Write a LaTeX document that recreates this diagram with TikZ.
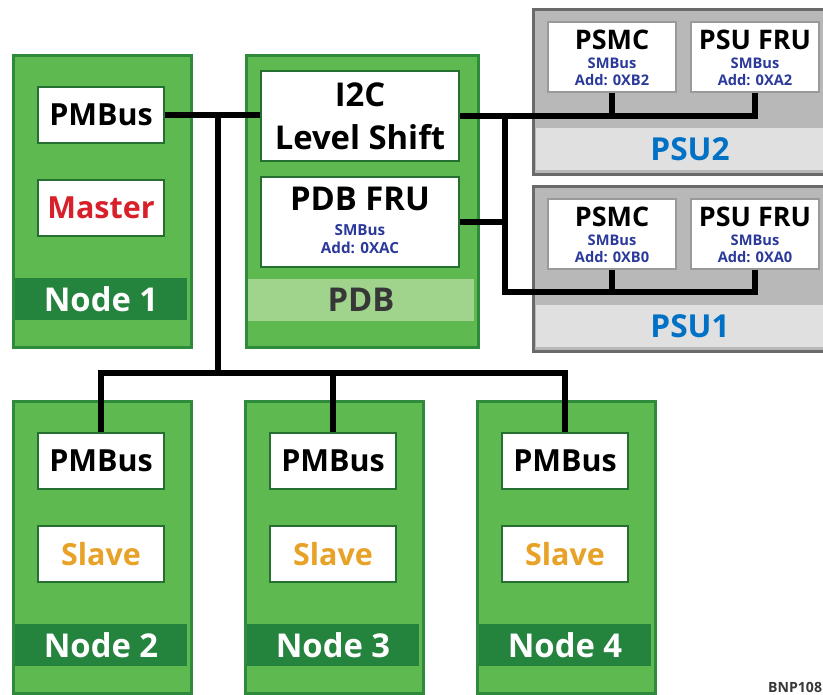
\documentclass[tikz,border=0pt]{standalone}
\usepackage{fontspec}
\setmainfont{Open Sans}
\definecolor{ngreen}{HTML}{5EBA50}
\definecolor{nborder}{HTML}{2E8B3C}
\definecolor{ndark}{HTML}{24843E}
\definecolor{nlight}{HTML}{A0D48C}
\definecolor{pdbgray}{HTML}{373737}
\definecolor{psugray}{HTML}{B8B8B8}
\definecolor{psulight}{HTML}{E0E0E0}
\definecolor{psuborder}{HTML}{6A6A6A}
\definecolor{psublue}{HTML}{0071C5}
\definecolor{smblue}{HTML}{2B3A9A}
\definecolor{mred}{HTML}{D7202A}
\definecolor{morange}{HTML}{E8A227}
\def\pxu{0.03cm}
\tikzset{
  nodebox/.style={draw=nborder, fill=ngreen, line width=2.5pt, anchor=north west,
    minimum width=178*\pxu, minimum height=292*\pxu, inner sep=0pt},
  psubox/.style={draw=psuborder, fill=psugray, line width=2.5pt, anchor=north west,
    minimum width=316*\pxu, minimum height=165*\pxu, inner sep=0pt},
  partbox/.style={draw=nborder!80!black, fill=white, line width=1.5pt, inner sep=0pt,
    minimum width=126*\pxu, minimum height=56*\pxu, font=\bfseries\fontsize{26}{26}\selectfont},
  chipbox/.style={draw=gray!80, fill=white, line width=1.5pt, inner sep=0pt,
    minimum width=128*\pxu, minimum height=70*\pxu},
  band/.style={inner sep=0pt, minimum width=172*\pxu, minimum height=42*\pxu,
    text=white, font=\bfseries\fontsize{28}{28}\selectfont},
  chiptxt/.style={anchor=base, inner sep=0pt, font=\bfseries\fontsize{23}{23}\selectfont},
  smb/.style={anchor=base, inner sep=0pt, text=smblue, font=\bfseries\fontsize{12.5}{12.5}\selectfont},
  bus/.style={line width=4.5pt, black}
}

\begin{document}
\begin{tikzpicture}[x=0.03cm, y=-0.03cm]
    \useasboundingbox (0,0) rectangle (823,694);
    % compute nodes
    \foreach \i/\x/\y/\role/\rolecol in {1/12/54/Master/mred, 2/12/400/Slave/morange,
        3/244/400/Slave/morange, 4/476/400/Slave/morange} {
        \node[nodebox] (node\i) at (\x,\y) {};
        \node[partbox] (bus\i) at (\x+89,\y+61) {PMBus};
        \node[partbox, text=\rolecol] (role\i) at (\x+89,\y+154) {\role};
        \node[band, fill=ndark] (lab\i) at (\x+89,\y+245) {Node \i};
    }
    % power distribution board
    \node[nodebox, minimum width=232*\pxu] (pdb) at (245,54) {};
    \node[partbox, minimum width=198*\pxu, minimum height=90*\pxu, align=center,
        font=\bfseries\fontsize{28}{37}\selectfont] (i2c) at (360,116) {I2C\\Level Shift};
    \node[partbox, minimum width=198*\pxu, minimum height=90*\pxu] (pdbfru) at (360,222) {};
    \node[chiptxt, font=\bfseries\fontsize{28}{28}\selectfont] (pdbfrutxt) at (360,210) {PDB FRU};
    \node[smb, font=\bfseries\fontsize{13}{13}\selectfont] (pdbsmb) at (360,235) {SMBus};
    \node[smb, font=\bfseries\fontsize{13}{13}\selectfont] (pdbadd) at (360,253) {Add: 0XAC};
    \node[band, fill=nlight, text=pdbgray, minimum width=226*\pxu] (pdblab) at (361,300) {PDB};
    % power supplies
    \foreach \i/\y/\mc/\fru in {2/8/B2/A2, 1/185/B0/A0} {
        \node[psubox] (psu\i) at (532,\y) {};
        \node[band, fill=psulight, text=psublue, minimum width=308*\pxu,
            font=\bfseries\fontsize{27}{27}\selectfont] (psulab\i) at (690,\y+141) {PSU\i};
        \node[chipbox] (psmc\i) at (612,\y+49) {};
        \node[chipbox] (psufru\i) at (755,\y+49) {};
        \node[chiptxt] (psmctxt\i) at (612,\y+41) {PSMC};
        \node[smb] (psmcsmb\i) at (612,\y+60) {SMBus};
        \node[smb] (psmcadd\i) at (612,\y+77) {Add: 0X\mc};
        \node[chiptxt] (psufrutxt\i) at (755,\y+41) {PSU FRU};
        \node[smb] (psufrusmb\i) at (755,\y+60) {SMBus};
        \node[smb] (psufruadd\i) at (755,\y+77) {Add: 0X\fru};
    }
    % bus lines
    \coordinate (tap) at (218,115);
    \coordinate (hub) at (218,373);
    \coordinate (split) at (505,116);
    \coordinate (psuline) at (505,292);
    \draw[bus] (bus1.east) -- (bus1.east -| i2c.west);
    \draw[bus] (tap) -- (hub);
    \draw[bus] (bus2) |- (hub) -| (bus4);
    \draw[bus] (bus3) -- (bus3 |- hub);
    \draw[bus] (i2c) -| (psufru2);
    \draw[bus] (psmc2) -- (psmc2 |- i2c);
    \draw[bus] (pdbfru) -- (pdbfru -| split);
    \draw[bus] (split) -- (psuline) -| (psufru1);
    \draw[bus] (psmc1) -- (psmc1 |- psuline);
    \node[anchor=base west, inner sep=0pt, text=pdbgray,
        font=\bfseries\fontsize{12}{12}\selectfont] (tag) at (768,692) {BNP108};
\end{tikzpicture}
\end{document}
